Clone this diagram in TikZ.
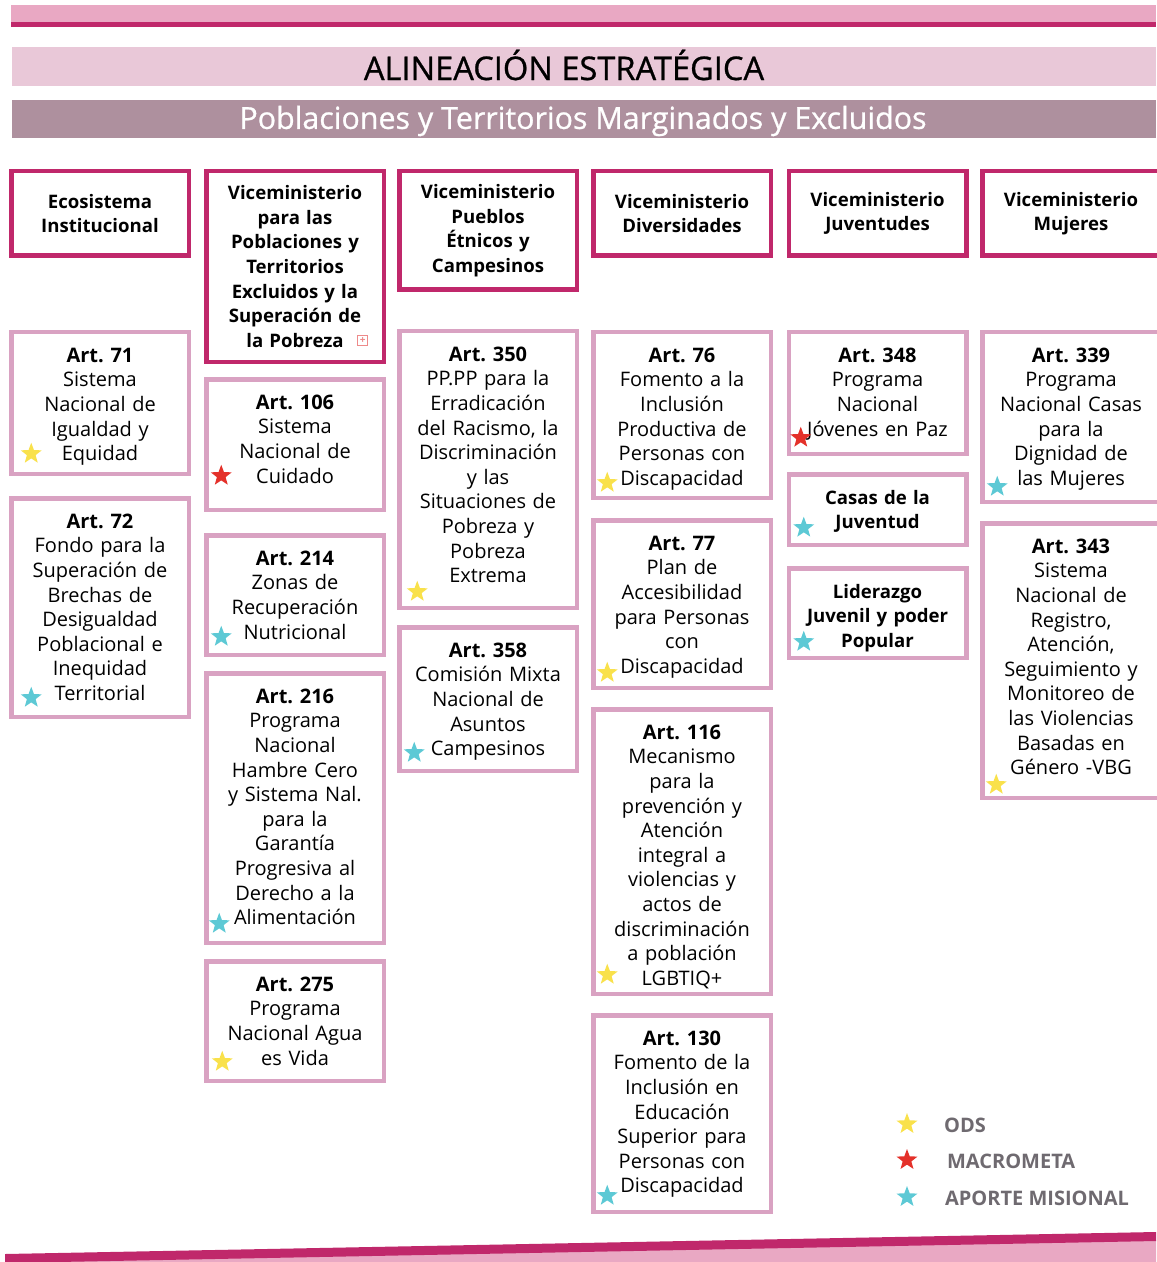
\documentclass[tikz,border=0pt]{standalone}
\usepackage{fontspec}
\setmainfont{Open Sans}
\newfontfamily\titlefont[FakeBold=0.8]{Open Sans}
\frenchspacing
\usepackage{tikz}
\usetikzlibrary{shapes.geometric, positioning, calc}
\usepackage{xcolor}
\definecolor{vicecol}{HTML}{C0286B}
\definecolor{artcol}{HTML}{D9A2C2}
\definecolor{barpink}{HTML}{E9A8C3}
\definecolor{titlepink}{HTML}{E9C8D8}
\definecolor{subgray}{HTML}{AE909E}
\definecolor{odsyellow}{HTML}{F9E14B}
\definecolor{metared}{HTML}{E4312A}
\definecolor{apocyan}{HTML}{5DC9D5}
\definecolor{legendgray}{HTML}{6F6A70}
\definecolor{plusred}{HTML}{EE8A8A}
\tikzstyle{vice} = [rectangle, anchor=north, draw=vicecol, line width=2.25pt, fill=white, outer sep=0pt, text width=84.75pt, inner xsep=2pt, align=center, font=\fontsize{9.3}{12.3}\selectfont\bfseries]
\tikzstyle{art} = [vice, draw=artcol, inner ysep=0pt, text height=15pt, font=\fontsize{10}{12.3}\selectfont]
\tikzstyle{progbox} = [art, font=\fontsize{9.3}{12.3}\selectfont\bfseries]
\tikzstyle{ods} = [star, star points=5, star point ratio=2.4, fill=odsyellow, inner sep=0pt, minimum size=11pt]
\tikzstyle{meta} = [ods, fill=metared]
\tikzstyle{aporte} = [ods, fill=apocyan]
\tikzstyle{legtext} = [anchor=west, text=legendgray, font=\fontsize{10}{12}\selectfont\bfseries]

\begin{document}
\begin{tikzpicture}[x=0.5pt, y=-0.5pt]
  \useasboundingbox (0,0) rectangle (1156,1262);

  % Bands
  \fill[barpink] (11,5) rectangle (1156,23);
  \fill[vicecol] (11,22) rectangle (1156,27);
  \fill[titlepink] (12,47) rectangle (1156,86);
  \fill[subgray] (12,100) rectangle (1156,138);
  \fill[barpink] (5,1262) -- (1156,1240) -- (1156,1262) -- cycle;
  \fill[vicecol] (5,1254) -- (1156,1232) -- (1156,1241) -- (5,1263) -- cycle;

  % Titles
  \node[font=\titlefont\fontsize{16.3}{20}\selectfont] (title) at (564,65) {ALINEACIÓN ESTRATÉGICA};
  \node[text=white, font=\titlefont\fontsize{15.2}{18}\selectfont] (subtitle) at (583,121) {Poblaciones y Territorios Marginados y Excluidos};

  % Viceministerios
  \node[vice, minimum height=42.25pt] (eco) at (100,171.25) {Ecosistema\\Institucional};
  \node[vice, minimum height=95.25pt] (vpob) at (295,171.25) {Viceministerio\\para las\\Poblaciones y\\Territorios\\Excluidos y la\\Superación de\\la Pobreza};
  \node[vice, minimum height=59.25pt] (vpue) at (488,171.25) {Viceministerio\\Pueblos\\Étnicos y\\Campesinos};
  \node[vice, minimum height=42.25pt] (vdiv) at (682,171.25) {Viceministerio\\Diversidades};
  \node[vice, minimum height=42.25pt] (vjuv) at (877.5,171.25) {Viceministerio\\Juventudes};
  \node[vice, minimum height=42.25pt] (vmuj) at (1071,171.25) {Viceministerio\\Mujeres};
  \node[draw=plusred, line width=0.6pt, minimum size=5pt, inner sep=0pt, text=plusred, font=\fontsize{5}{5}\selectfont\bfseries] (expand) at ($(vpob.south east)+(-21,-21)$) {+};

  % Ecosistema
  \node[art, text depth=55.75pt, below=38.25pt of eco] (b71) {\textbf{Art. 71}\\Sistema\\Nacional de\\Igualdad y\\Equidad};
  \node[art, text depth=94.25pt, below=12.25pt of b71] (b72) {\textbf{Art. 72}\\Fondo para la\\Superación de\\Brechas de\\Desigualdad\\Poblacional e\\Inequidad\\Territorial};

  % Poblaciones y territorios
  \node[art, text depth=50.25pt, below=8.75pt of vpob] (b106) {\textbf{Art. 106}\\Sistema\\Nacional de\\Cuidado};
  \node[art, text depth=44.75pt, below=12.75pt of b106] (b214) {\textbf{Art. 214}\\Zonas de\\Recuperación\\Nutricional};
  \node[art, text depth=119.75pt, below=9.25pt of b214] (b216) {\textbf{Art. 216}\\Programa\\Nacional\\Hambre Cero\\y Sistema Nal.\\para la\\Garantía\\Progresiva al\\Derecho a la\\Alimentación};
  \node[art, text depth=44.75pt, below=9.25pt of b216] (b275) {\textbf{Art. 275}\\Programa\\Nacional Agua\\es Vida};

  % Pueblos
  \node[art, text depth=123.25pt, below=20.75pt of vpue] (b350) {\textbf{Art. 350}\\PP.PP para la\\Erradicación\\del Racismo, la\\Discriminación\\y las\\Situaciones de\\Pobreza y\\Pobreza\\Extrema};
  \node[art, text depth=56.75pt, below=9.75pt of b350] (b358) {\textbf{Art. 358}\\Comisión Mixta\\Nacional de\\Asuntos\\Campesinos};

  % Diversidades
  \node[art, text depth=67.75pt, below=38.25pt of vdiv] (b76) {\textbf{Art. 76}\\Fomento a la\\Inclusión\\Productiva de\\Personas con\\Discapacidad};
  \node[art, text depth=68.75pt, below=11.25pt of b76] (b77) {\textbf{Art. 77}\\Plan de\\Accesibilidad\\para Personas\\con\\Discapacidad};
  \node[art, text depth=127.25pt, below=10.75pt of b77] (b116) {\textbf{Art. 116}\\Mecanismo\\para la\\prevención y\\Atención\\integral a\\violencias y\\actos de\\discriminación\\a población\\LGBTIQ+};
  \node[art, text depth=83.25pt, below=10.75pt of b116] (b130) {\textbf{Art. 130}\\Fomento de la\\Inclusión en\\Educación\\Superior para\\Personas con\\Discapacidad};

  % Juventudes
  \node[art, text depth=45.75pt, below=38.25pt of vjuv] (b348) {\textbf{Art. 348}\\Programa\\Nacional\\Jóvenes en Paz};
  \node[progbox, text depth=20.25pt, below=10.25pt of b348] (casas) {Casas de la\\Juventud};
  \node[progbox, text depth=29.75pt, below=11.75pt of casas] (lider) {Liderazgo\\Juvenil y poder\\Popular};

  % Mujeres
  \node[art, text depth=69.75pt, below=38.25pt of vmuj] (b339) {\textbf{Art. 339}\\Programa\\Nacional Casas\\para la\\Dignidad de\\las Mujeres};
  \node[art, text depth=122.25pt, below=10.75pt of b339] (b343) {\textbf{Art. 343}\\Sistema\\Nacional de\\Registro,\\Atención,\\Seguimiento y\\Monitoreo de\\las Violencias\\Basadas en\\Género -VBG};

  % Stars
  \node[ods] (s71) at ($(b71.south west)+(20,-20)$) {};
  \node[aporte] (s72) at ($(b72.south west)+(20,-19)$) {};
  \node[meta] (s106) at ($(b106.south west)+(15,-34)$) {};
  \node[aporte] (s214) at ($(b214.south west)+(15,-18)$) {};
  \node[aporte] (s216) at ($(b216.south west)+(13,-19)$) {};
  \node[ods] (s275) at ($(b275.south west)+(16,-19)$) {};
  \node[ods] (s350) at ($(b350.south west)+(18,-16)$) {};
  \node[aporte] (s358) at ($(b358.south west)+(15,-18)$) {};
  \node[ods] (s76) at ($(b76.south west)+(14,-15)$) {};
  \node[ods] (s77) at ($(b77.south west)+(14,-15)$) {};
  \node[ods] (s116) at ($(b116.south west)+(14,-19)$) {};
  \node[aporte] (s130) at ($(b130.south west)+(14,-16)$) {};
  \node[meta] (s348) at ($(b348.south west)+(12,-16)$) {};
  \node[aporte] (scasas) at ($(casas.south west)+(15,-17)$) {};
  \node[aporte] (slider) at ($(lider.south west)+(15,-16)$) {};
  \node[aporte] (s339) at ($(b339.south west)+(15,-15)$) {};
  \node[ods] (s343) at ($(b343.south west)+(14,-13)$) {};

  % Legend
  \node[ods] (kods) at (907,1124) {};
  \node[meta] (kmeta) at (907,1160) {};
  \node[aporte] (kaporte) at (907,1197) {};
  \node[legtext] (lods) at (937,1125) {ODS};
  \node[legtext] (lmeta) at (940,1161) {MACROMETA};
  \node[legtext] (laporte) at (938,1198) {APORTE MISIONAL};
\end{tikzpicture}
\end{document}
